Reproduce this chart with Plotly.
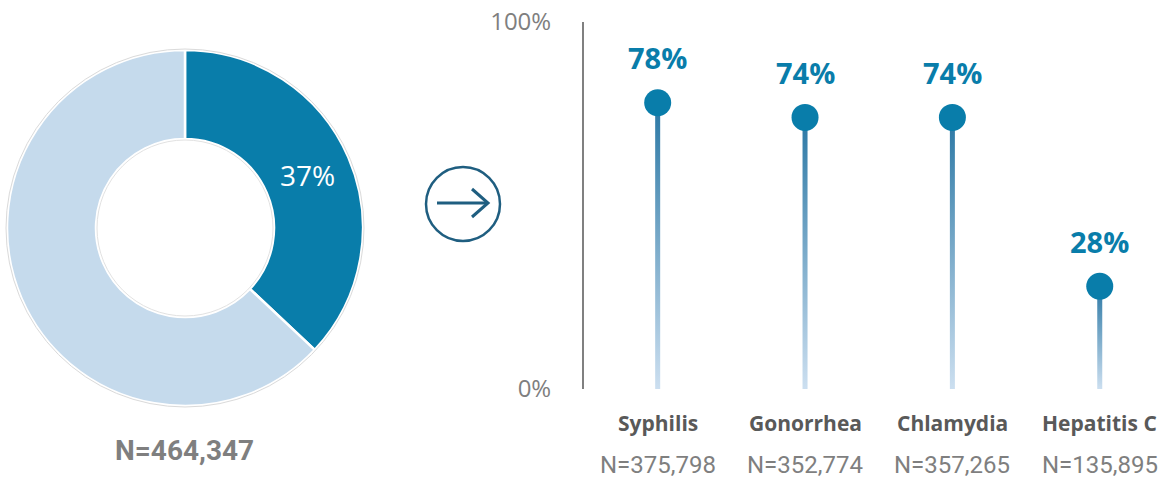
import plotly.graph_objects as go

# Overall share (donut)
donut_labels = ["Tested", "Not tested"]
donut_values = [37, 63]
donut_text = ["37%", ""]
total_n = "N=464,347"

# Share by infection (lollipops)
categories = ["Syphilis", "Gonorrhea", "Chlamydia", "Hepatitis C"]
shares = [78, 74, 74, 28]
counts = ["N=375,798", "N=352,774", "N=357,265", "N=135,895"]
y_ticks = [0, 100]
y_tick_text = ["0%", "100%"]

W, H = 1169, 480
DARK = "#097DAA"
LIGHT = "#C5DAEC"
GREY = "#7F7F7F"
ARROW = "#1F5E80"

def px(x):
    return x / W

def py(y):
    return 1 - y / H

fig = go.Figure()

# Donut
cx, cy, R = 185, 228, 178
fig.add_trace(go.Pie(
    labels=donut_labels, values=donut_values, text=donut_text,
    textinfo="text", textposition="inside", insidetextorientation="horizontal",
    textfont=dict(color="white", size=28, family="Open Sans"),
    hole=0.5, sort=False, direction="clockwise", rotation=0,
    marker=dict(colors=[DARK, LIGHT], line=dict(color="white", width=2.5)),
    domain=dict(x=[px(cx - R), px(cx + R)], y=[py(cy + R), py(cy - R)]),
    showlegend=False, hoverinfo="label+percent", automargin=False,
))

# Lollipop stems with vertical gradient
half_w = 0.017
xs = list(range(len(categories)))
for i, v in zip(xs, shares):
    fig.add_trace(go.Scatter(
        x=[i - half_w, i + half_w, i + half_w, i - half_w, i - half_w],
        y=[0, 0, v, v, 0],
        mode="lines", line=dict(width=0), fill="toself",
        fillgradient=dict(type="vertical",
                          colorscale=[[0, "#CCDFF0"], [1, "#2A77A4"]]),
        hoverinfo="skip", showlegend=False, xaxis="x", yaxis="y",
    ))

# Lollipop heads
fig.add_trace(go.Scatter(
    x=xs, y=shares, mode="markers",
    marker=dict(size=27, color=DARK),
    showlegend=False, xaxis="x", yaxis="y",
    hovertemplate="%{y}%<extra></extra>",
))

annotations = []
for i, v in zip(xs, shares):
    annotations.append(dict(
        x=i, y=v, xref="x", yref="y", text=f"<b>{v}%</b>", showarrow=False,
        xanchor="center", yanchor="middle", yshift=45,
        font=dict(size=29, color=DARK, family="Open Sans"),
    ))
for i, (c, n) in enumerate(zip(categories, counts)):
    annotations.append(dict(
        x=i, y=py(423), xref="x", yref="paper", text=f"<b>{c}</b>",
        showarrow=False, xanchor="center", yanchor="middle",
        font=dict(size=21, color="#595959", family="Open Sans"),
    ))
    annotations.append(dict(
        x=i, y=py(465), xref="x", yref="paper", text=n,
        showarrow=False, xanchor="center", yanchor="middle",
        font=dict(size=24, color=GREY, family="Roboto"),
    ))
annotations.append(dict(
    x=px(cx), y=py(450), xref="paper", yref="paper", text=f"<b>{total_n}</b>",
    showarrow=False, xanchor="center", yanchor="middle",
    font=dict(size=28, color=GREY, family="Roboto"),
))

# Arrow-in-circle connector and donut outlines
acx, acy, ar = 463, 204, 37
shapes = [
    dict(type="circle", xref="paper", yref="paper",
         x0=px(cx - R - 1), x1=px(cx + R + 1), y0=py(cy + R + 1), y1=py(cy - R - 1),
         line=dict(color="#DADADA", width=1), layer="above"),
    dict(type="circle", xref="paper", yref="paper",
         x0=px(cx - 88), x1=px(cx + 88), y0=py(cy + 88), y1=py(cy - 88),
         line=dict(color="#E2E2E2", width=1), layer="above"),
    dict(type="circle", xref="paper", yref="paper",
         x0=px(acx - ar), x1=px(acx + ar), y0=py(acy + ar), y1=py(acy - ar),
         line=dict(color=ARROW, width=2.5)),
    dict(type="line", xref="paper", yref="paper",
         x0=px(437), x1=px(488), y0=py(acy - 1), y1=py(acy - 1),
         line=dict(color=ARROW, width=3)),
    dict(type="path", xref="paper", yref="paper",
         path=f"M {px(472)} {py(189)} L {px(488)} {py(acy - 1)} L {px(472)} {py(217)}",
         line=dict(color=ARROW, width=3)),
]

fig.update_layout(
    width=W, height=H, margin=dict(l=0, r=0, t=0, b=0, autoexpand=False),
    paper_bgcolor="white", plot_bgcolor="white",
    xaxis=dict(domain=[px(584), 1], range=[-0.5, 3.47], showgrid=False,
               zeroline=False, showticklabels=False, showline=False,
               automargin=False, fixedrange=True),
    yaxis=dict(domain=[py(389), py(22)], range=[0, 100], tickvals=y_ticks,
               ticktext=y_tick_text, showgrid=False, zeroline=False,
               showline=True, linecolor="#808080", linewidth=2, ticks="",
               ticklabelstandoff=26, automargin=False,
               tickfont=dict(size=24, color=GREY, family="Open Sans"),
               fixedrange=True),
    annotations=annotations, shapes=shapes,
)

fig.write_html("out.html")
